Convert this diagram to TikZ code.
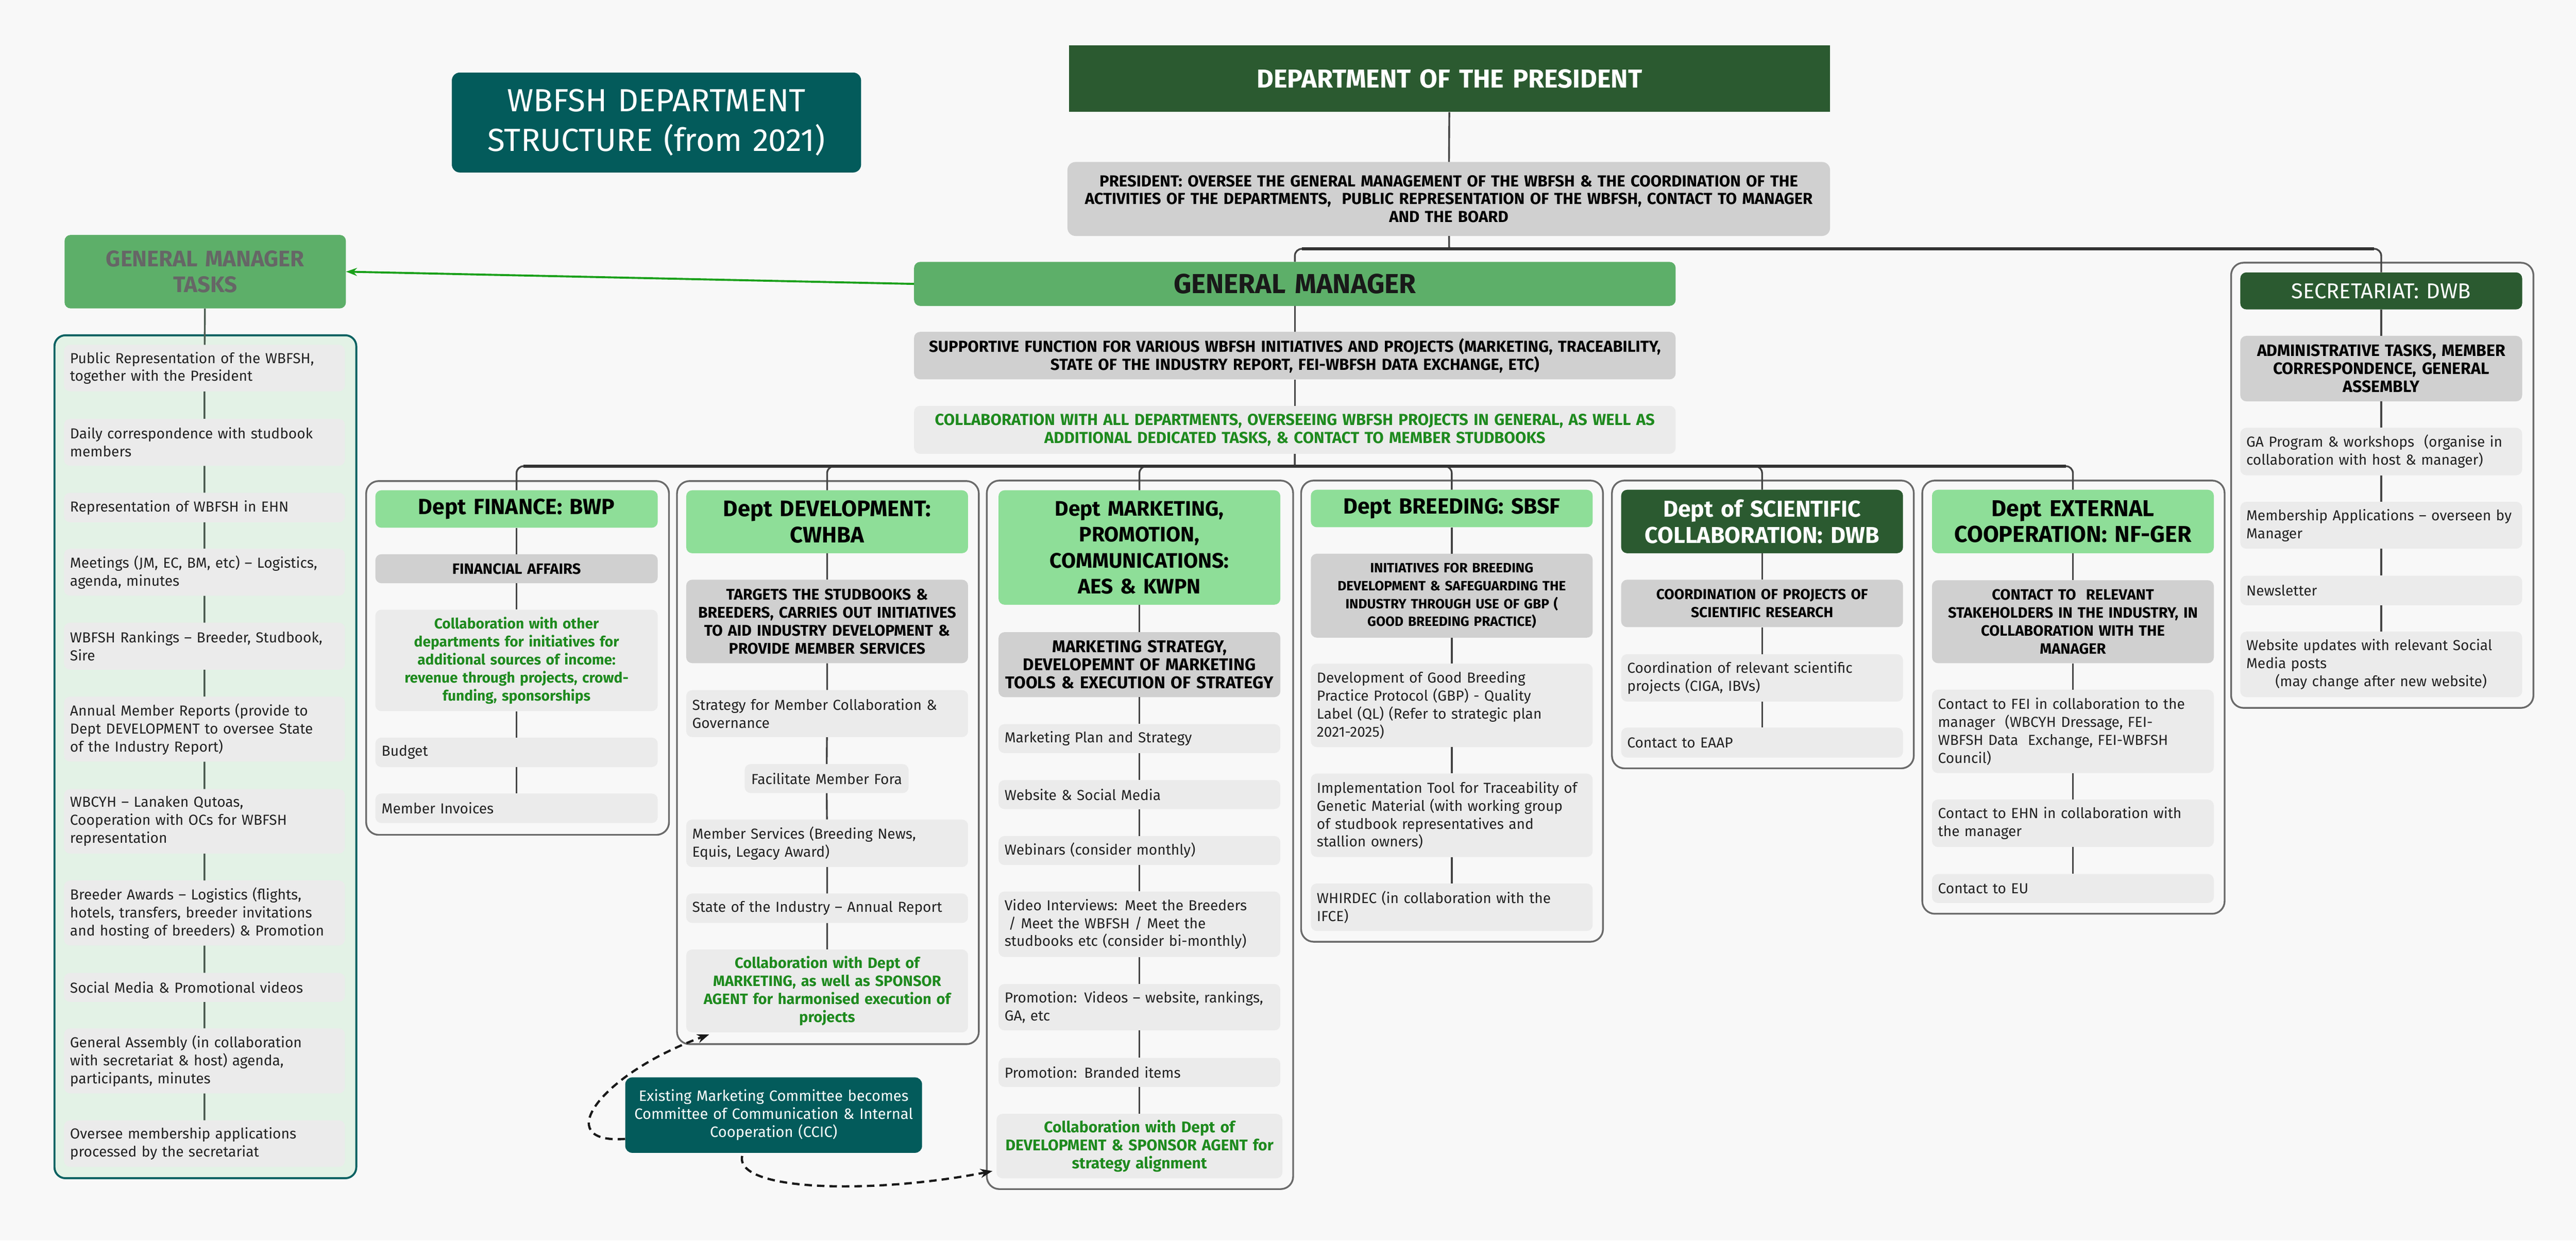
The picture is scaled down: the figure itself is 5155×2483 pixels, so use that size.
\documentclass[tikz,border=0pt]{standalone}
\usepackage{fontspec}
\setmainfont{Fira Sans}
\usetikzlibrary{arrows.meta,calc}
\definecolor{bgc}{HTML}{F8F8F8}
\definecolor{tealbox}{HTML}{035B5B}
\definecolor{dgreen}{HTML}{2B5A30}
\definecolor{mgreen}{HTML}{5DAF69}
\definecolor{lgreen}{HTML}{8EDE98}
\definecolor{descgray}{HTML}{D0D0D0}
\definecolor{itemgray}{HTML}{EBEBEB}
\definecolor{gtext}{HTML}{1E8A1E}
\definecolor{outl}{HTML}{6A6A6A}
\definecolor{lfill}{HTML}{E3F2E6}
\definecolor{lline}{HTML}{0B6262}
\definecolor{lconncol}{HTML}{4B5B50}
\definecolor{conncol}{HTML}{444444}
\definecolor{barcol}{HTML}{333333}
\definecolor{txt}{HTML}{222222}
\definecolor{arrg}{HTML}{1AA01A}
\definecolor{gmtext}{HTML}{666666}
\newcommand\fItem{\fontsize{29}{36}\selectfont}
\newcommand\fGreenS[1]{\fontsize{#1}{36}\selectfont\bfseries}
\newcommand\fDescS[1]{\fontsize{#1}{36}\selectfont\bfseries}
\newcommand\fHeadS[1]{\fontsize{#1}{52}\selectfont\bfseries}
\newcommand\fHeadR{\fontsize{43}{52}\selectfont}
\newcommand\fPres{\fontsize{52}{60}\selectfont\bfseries}
\newcommand\fGM{\fontsize{55}{60}\selectfont\bfseries}
\newcommand\fGMT{\fontsize{45}{52}\selectfont\bfseries}
\newcommand\fTitle{\fontsize{64}{80}\selectfont}
\newcommand\fCCIC{\fontsize{30}{36}\selectfont}
\tikzset{
  bx/.style={anchor=north west, inner xsep=14pt, inner ysep=0pt, minimum width=564pt, text width=536pt},
  hh/.style={minimum height=#1pt},
  item/.style={bx, fill=itemgray, rounded corners=12pt, align=left, font=\fItem, text=txt, inner xsep=12pt, text width=540pt},
  litem/.style={item, minimum width=562pt, inner xsep=12pt, text width=538pt},
  gitem/.style={bx, fill=itemgray, rounded corners=12pt, align=center, font=\fGreenS{30}, text=gtext},
  desc/.style={bx, fill=descgray, rounded corners=12pt, align=center, font=\fDescS{30}, text=black},
  lhead/.style={bx, fill=lgreen, rounded corners=12pt, align=center, font=\fHeadS{44}, text=black},
  dhead/.style={bx, fill=dgreen, rounded corners=12pt, align=center, font=\fHeadS{44}, text=white},
  grp/.style={anchor=north west, draw=outl, line width=3.5pt, rounded corners=25pt, inner sep=0pt},
  conn/.style={draw=conncol, line width=3.5pt},
  lconn/.style={draw=lconncol, line width=3.5pt},
  bar/.style={draw=barcol, line width=6pt},
  garrow/.style={draw=arrg, line width=4pt, -{Stealth[length=22pt,width=16pt]}},
  dasharrow/.style={draw=black!90, line width=4.5pt, dash pattern=on 15pt off 10pt, -{Stealth[length=24pt,width=18pt]}}
}
\begin{document}
\begin{tikzpicture}[x=1pt,y=-1pt]
\fill[bgc] (0,0) rectangle (5155,2483);
\useasboundingbox (0,0) rectangle (5155,2483);

% ---------- top ----------
\node[anchor=north west, fill=tealbox, rounded corners=16pt, minimum width=819pt, minimum height=200pt, text width=791pt, inner xsep=14pt, inner ysep=0pt, align=center, font=\fTitle, text=white] (title) at (904,145) {WBFSH DEPARTMENT\\ STRUCTURE (from 2021)};
\node[bx, fill=dgreen, minimum width=1523pt, text width=1495pt, hh=133, align=center, font=\fPres, text=white] (pres) at (2139,91) {DEPARTMENT OF THE PRESIDENT};
\node[desc, font=\fDescS{32}, minimum width=1526pt, text width=1506pt, inner xsep=10pt, hh=148, rounded corners=16pt] (presd) at (2136,324) {PRESIDENT: OVERSEE THE GENERAL MANAGEMENT OF THE WBFSH \& THE COORDINATION OF THE\\ ACTIVITIES OF THE DEPARTMENTS,\ \ PUBLIC REPRESENTATION OF THE WBFSH, CONTACT TO MANAGER\\ AND THE BOARD};
\node[bx, fill=mgreen, rounded corners=12pt, minimum width=1524pt, text width=1496pt, hh=88, align=center, font=\fGM, text=black!90] (gm) at (1829,524) {GENERAL MANAGER};
\node[desc, font=\fDescS{32}, minimum width=1524pt, text width=1504pt, inner xsep=10pt, hh=95] (gmsup) at (1829,664) {SUPPORTIVE FUNCTION FOR VARIOUS WBFSH INITIATIVES AND PROJECTS (MARKETING, TRACEABILITY,\\ STATE OF THE INDUSTRY REPORT, FEI-WBFSH DATA EXCHANGE, ETC)};
\node[bx, fill=itemgray, rounded corners=12pt, minimum width=1524pt, text width=1504pt, inner xsep=10pt, hh=96, align=center, font=\fDescS{32}, text=gtext] (gmcol) at (1829,812) {COLLABORATION WITH ALL DEPARTMENTS, OVERSEEING WBFSH PROJECTS IN GENERAL, AS WELL AS\\ ADDITIONAL DEDICATED TASKS, \& CONTACT TO MEMBER STUDBOOKS};

% ---------- general manager tasks ----------
\node[bx, fill=mgreen, rounded corners=12pt, minimum width=563pt, text width=535pt, hh=147, align=center, font=\fGMT, text=gmtext] (gmt) at (129,470) {GENERAL MANAGER\\ TASKS};
\node[anchor=north west, draw=lline, fill=lfill, line width=4pt, rounded corners=22pt, minimum width=604pt, minimum height=1687pt, inner sep=0pt] (lgrp) at (107,669) {};
\node[litem, hh=93] (l1) at (128,690) {Public Representation of the WBFSH,\\ together with the President};
\node[litem, hh=94] (l2) at (128,838) {Daily correspondence with studbook\\ members};
\node[litem, hh=59] (l3) at (128,986) {Representation of WBFSH in EHN};
\node[litem, hh=94] (l4) at (128,1098) {Meetings (JM, EC, BM, etc) – Logistics,\\ agenda, minutes};
\node[litem, hh=94] (l5) at (128,1246) {WBFSH Rankings – Breeder, Studbook,\\ Sire};
\node[litem, hh=130] (l6) at (128,1394) {Annual Member Reports (provide to\\ Dept DEVELOPMENT to oversee State\\ of the Industry Report)};
\node[litem, hh=129] (l7) at (128,1579) {WBCYH – Lanaken Qutoas,\\ Cooperation with OCs for WBFSH\\ representation};
\node[litem, hh=130] (l8) at (128,1762) {Breeder Awards – Logistics (flights,\\ hotels, transfers, breeder invitations\\ and hosting of breeders) \& Promotion};
\node[litem, hh=58] (l9) at (128,1947) {Social Media \& Promotional videos};
\node[litem, hh=130] (l10) at (128,2058) {General Assembly (in collaboration\\ with secretariat \& host) agenda,\\ participants, minutes};
\node[litem, hh=93] (l11) at (128,2242) {Oversee membership applications\\ processed by the secretariat};

% ---------- groups ----------
\node[grp, minimum width=606pt, minimum height=708pt] (gfin) at (731,961) {};
\node[grp, minimum width=604pt, minimum height=1127pt] (gdev) at (1353,961) {};
\node[grp, minimum width=613pt, minimum height=1418pt] (gmkt) at (1973,960) {};
\node[grp, minimum width=604pt, minimum height=923pt] (gbre) at (2602,960) {};
\node[grp, minimum width=604pt, minimum height=576pt] (gsci) at (3224,960) {};
\node[grp, minimum width=605pt, minimum height=867pt] (gext) at (3845,960) {};
\node[grp, minimum width=605pt, minimum height=891pt] (gsec) at (4463,524) {};

% ---------- finance ----------
\node[lhead, minimum width=565pt, hh=75] (fh) at (751,981) {Dept FINANCE: BWP};
\node[desc, minimum width=565pt, hh=58] (fd) at (751,1109) {FINANCIAL AFFAIRS};
\node[gitem, font=\fGreenS{29}, minimum width=565pt, hh=203] (fc) at (751,1220) {Collaboration with other\\ departments for initiatives for\\ additional sources of income:\\ revenue through projects, crowd-\\ funding, sponsorships};
\node[item, minimum width=565pt, hh=59] (fb) at (751,1476) {Budget};
\node[item, minimum width=565pt, hh=59] (fm) at (751,1588) {Member Invoices};

% ---------- development ----------
\node[lhead, font=\fHeadS{45}, hh=126] (dh) at (1373,981) {Dept DEVELOPMENT:\\ CWHBA};
\node[desc, font=\fDescS{31}, hh=167] (dd) at (1373,1160) {TARGETS THE STUDBOOKS \&\\ BREEDERS, CARRIES OUT INITIATIVES\\ TO AID INDUSTRY DEVELOPMENT \&\\ PROVIDE MEMBER SERVICES};
\node[item, hh=94] (d1) at (1373,1381) {Strategy for Member Collaboration \&\\ Governance};
\node[item, minimum width=328pt, inner xsep=8pt, text width=312pt, align=center, hh=58] (d2) at (1490,1529) {Facilitate Member Fora};
\node[item, hh=95] (d3) at (1373,1640) {Member Services (Breeding News,\\ Equis, Legacy Award)};
\node[item, hh=59] (d4) at (1373,1788) {State of the Industry – Annual Report};
\node[gitem, hh=166] (dc) at (1373,1900) {Collaboration with Dept of\\ MARKETING, as well as SPONSOR\\ AGENT for harmonised execution of\\ projects};

% ---------- marketing ----------
\node[lhead, font=\fHeadS{42}, hh=229] (mh) at (1998,981) {Dept MARKETING,\\ PROMOTION,\\ COMMUNICATIONS:\\ AES \& KWPN};
\node[desc, font=\fDescS{34}, hh=130] (md) at (1998,1265) {MARKETING STRATEGY,\\ DEVELOPEMNT OF MARKETING\\ TOOLS \& EXECUTION OF STRATEGY};
\node[item, hh=58] (m1) at (1998,1449) {Marketing Plan and Strategy};
\node[item, hh=58] (m2) at (1998,1561) {Website \& Social Media};
\node[item, hh=58] (m3) at (1998,1673) {Webinars (consider monthly)};
\node[item, hh=131] (m4) at (1998,1784) {Video Interviews: Meet the Breeders\\ \hspace*{8pt}/ Meet the WBFSH / Meet the\\ studbooks etc (consider bi-monthly)};
\node[item, hh=93] (m5) at (1998,1969) {Promotion: Videos – website, rankings,\\ GA, etc};
\node[item, hh=58] (m6) at (1998,2117) {Promotion: Branded items};
\node[gitem, font=\fGreenS{31}, minimum width=572pt, text width=548pt, inner xsep=12pt, hh=129] (mc) at (1994,2229) {Collaboration with Dept of\\ DEVELOPMENT \& SPONSOR AGENT for\\ strategy alignment};

% ---------- breeding ----------
\node[lhead, minimum width=563pt, hh=75] (bh) at (2623,980) {Dept BREEDING: SBSF};
\node[desc, font=\fDescS{27}, minimum width=563pt, hh=168] (bd) at (2623,1108) {INITIATIVES FOR BREEDING\\ DEVELOPMENT \& SAFEGUARDING THE\\ INDUSTRY THROUGH USE OF GBP (\\ GOOD BREEDING PRACTICE)};
\node[item, minimum width=563pt, hh=167] (b1) at (2623,1328) {Development of Good Breeding\\ Practice Protocol (GBP) - Quality\\ Label (QL) (Refer to strategic plan\\ 2021-2025)};
\node[item, minimum width=563pt, hh=167] (b2) at (2623,1548) {Implementation Tool for Traceability of\\ Genetic Material (with working group\\ of studbook representatives and\\ stallion owners)};
\node[item, minimum width=563pt, hh=95] (b3) at (2623,1768) {WHIRDEC (in collaboration with the\\ IFCE)};

% ---------- scientific ----------
\node[dhead, font=\fHeadS{46}, hh=127] (sh) at (3244,980) {Dept of SCIENTIFIC\\ COLLABORATION: DWB};
\node[desc, font=\fDescS{29}, hh=95] (sd) at (3244,1160) {COORDINATION OF PROJECTS OF\\ SCIENTIFIC RESEARCH};
\node[item, hh=95] (s1) at (3244,1309) {Coordination of relevant scientific\\ projects (CIGA, IBVs)};
\node[item, hh=60] (s2) at (3244,1456) {Contact to EAAP};

% ---------- external ----------
\node[lhead, font=\fHeadS{46}, hh=127] (eh) at (3866,980) {Dept EXTERNAL\\ COOPERATION: NF-GER};
\node[desc, hh=166] (ed) at (3866,1161) {CONTACT TO\ \ RELEVANT\\ STAKEHOLDERS IN THE INDUSTRY, IN\\ COLLABORATION WITH THE\\ MANAGER};
\node[item, hh=167] (e1) at (3866,1380) {Contact to FEI in collaboration to the\\ manager\ \ (WBCYH Dressage, FEI-\\ WBFSH Data\ \ Exchange, FEI-WBFSH\\ Council)};
\node[item, hh=95] (e2) at (3866,1600) {Contact to EHN in collaboration with\\ the manager};
\node[item, hh=58] (e3) at (3866,1749) {Contact to EU};

% ---------- secretariat ----------
\node[dhead, font=\fHeadR, hh=74] (ch) at (4483,545) {SECRETARIAT: DWB};
\node[desc, font=\fDescS{33}, hh=131] (cd) at (4483,672) {ADMINISTRATIVE TASKS, MEMBER\\ CORRESPONDENCE, GENERAL\\ ASSEMBLY};
\node[item, hh=95] (c1) at (4483,856) {GA Program \& workshops\ \ (organise in\\ collaboration with host \& manager)};
\node[item, hh=94] (c2) at (4483,1004) {Membership Applications – overseen by\\ Manager};
\node[item, hh=59] (c3) at (4483,1152) {Newsletter};
\node[item, hh=131] (c4) at (4483,1264) {Website updates with relevant Social\\ Media posts\\ \hspace*{58pt}(may change after new website)};

% ---------- CCIC ----------
\node[bx, fill=tealbox, rounded corners=14pt, minimum width=594pt, text width=564pt, inner xsep=15pt, hh=151, align=center, font=\fCCIC, text=white] (ccic) at (1251,2156) {Existing Marketing Committee becomes\\ Committee of Communication \& Internal\\ Cooperation (CCIC)};

% ---------- connectors ----------
\coordinate (tbus) at (2900,498);
\coordinate (bus) at (2591,933);
\draw[conn] (pres) -- (presd);
\draw[conn] (presd) -- (tbus);
\draw[conn, rounded corners=14pt] (tbus) -| (gm.north);
\draw[conn, rounded corners=14pt] (tbus) -| (ch.north);
\draw[bar] ($(gm.north |- tbus)+(14,0)$) -- ($(ch.north |- tbus)+(-14,0)$);
\draw[conn] (gm) -- (gmsup) -- (gmcol);
\draw[conn] (gmcol) -- (bus);
\foreach \h in {fh,dh,mh,bh,sh,eh}
  \draw[conn, rounded corners=14pt] (bus) -| (\h.north);
\draw[bar] ($(fh.north |- bus)+(14,0)$) -- ($(eh.north |- bus)+(-14,0)$);

\draw[lconn] (gmt) -- (l1) -- (l2) -- (l3) -- (l4) -- (l5) -- (l6) -- (l7) -- (l8) -- (l9) -- (l10) -- (l11);
\draw[conn] (fh) -- (fd) -- (fc) -- (fb) -- (fm);
\draw[conn] (dh) -- (dd) -- (d1) -- (d2) -- (d3) -- (d4) -- (dc);
\draw[conn] (mh) -- (md) -- (m1) -- (m2) -- (m3) -- (m4) -- (m5) -- (m6) -- (mc);
\draw[conn] (bh) -- (bd) -- (b1) -- (b2) -- (b3);
\draw[conn] (sh) -- (sd) -- (s1) -- (s2);
\draw[conn] (eh) -- (ed) -- (e1) -- (e2) -- (e3);
\draw[conn] (ch) -- (cd) -- (c1) -- (c2) -- (c3) -- (c4);

\draw[garrow] (gm.west) -- (gmt.east);
\draw[dasharrow] ([yshift=28pt]ccic.south west) .. controls (1100,2290) and (1200,2150) .. ([xshift=46pt,yshift=-4pt]dc.south west);
\draw[dasharrow] ([xshift=-63pt,yshift=-6pt]ccic.south) .. controls (1470,2385) and (1750,2390) .. ([xshift=-8pt,yshift=-50pt]mc.west);
\end{tikzpicture}
\end{document}
